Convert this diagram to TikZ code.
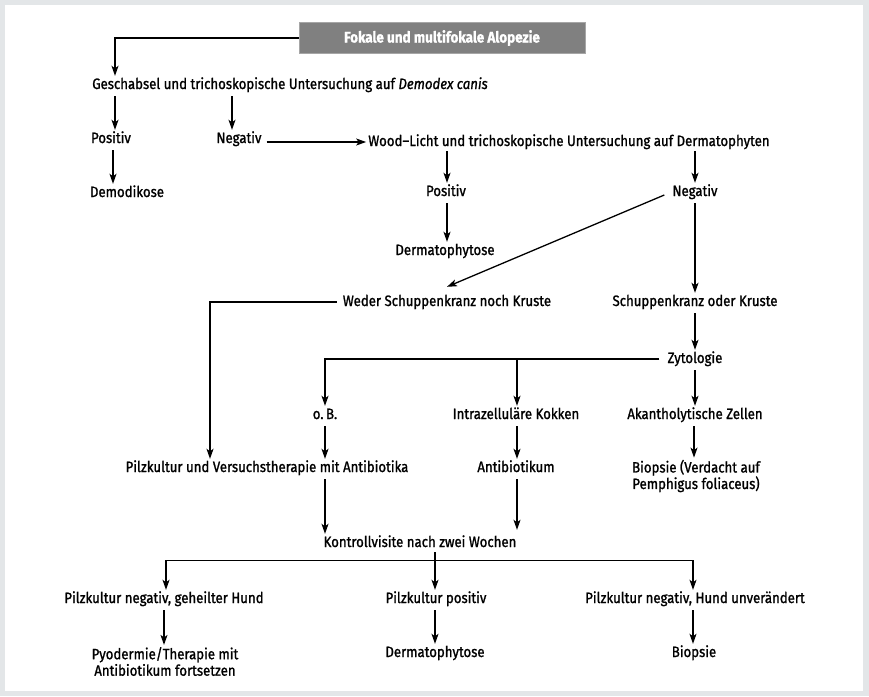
\documentclass[tikz,border=0pt]{standalone}
\usepackage{fontspec}
\setmainfont{Fira Sans}[FakeStretch=0.88, FakeBold=1.2]
\usetikzlibrary{arrows.meta,calc}
\definecolor{framegrey}{HTML}{E3E6E8}
\definecolor{titlegrey}{HTML}{808080}
\tikzset{
  lbl/.style={inner sep=2pt, font=\fontsize{15}{17}\selectfont, text height=11pt, text depth=3pt, align=center},
  lbltwo/.style={inner sep=2pt, font=\fontsize{15}{16.5}\selectfont, align=center},
  arr/.style={line width=1.3pt, -{Stealth[length=10pt,width=7pt,inset=2.5pt]}},
  ln/.style={line width=1.3pt},
}
\begin{document}
\begin{tikzpicture}[x=1pt,y=-1pt]
\useasboundingbox (0,0) rectangle (869,696);
\fill[framegrey] (0,0) rectangle (869,696);
\fill[white] (5,5) rectangle (863,691);
% column helpers
\foreach \n/\x in {a/115,b/232,c/113,d/447,e/695,f/210,g/325,h/517,i/694,j/435,k/166,l/693,m/164}{
  \coordinate (c\n) at (\x,0);
}
% title
\node[fill=titlegrey, draw=gray!70, line width=0.8pt, minimum width=286pt, minimum height=31pt, text=white, inner sep=0pt,
      font=\fontsize{15.3}{18}\selectfont\bfseries] (title) at (442,38) {Fokale und multifokale Alopezie};
% nodes
\node[lbl] (ges) at (290,85) {Geschabsel und trichoskopische Untersuchung auf \textit{Demodex canis}};
\node[lbl] (pos1) at (111,139) {Positiv};
\node[lbl] (neg1) at (239,139) {Negativ};
\node[lbl] (demo) at (127,193) {Demodikose};
\node[lbl] (wood) at (569,142) {Wood–Licht und trichoskopische Untersuchung auf Dermatophyten};
\node[lbl] (pos2) at (446,192) {Positiv};
\node[lbl] (neg2) at (695,192) {Negativ};
\node[lbl] (derm1) at (445,251) {Dermatophytose};
\node[lbl] (weder) at (447,302) {Weder Schuppenkranz noch Kruste};
\node[lbl] (schup) at (695,302) {Schuppenkranz oder Kruste};
\node[lbl] (zyt) at (695,359) {Zytologie};
\node[lbl] (ob) at (325,415) {o.\,B.};
\node[lbl] (intra) at (516,415) {Intrazelluläre Kokken};
\node[lbl] (akan) at (695,415) {Akantholytische Zellen};
\node[lbl] (pilz) at (267,468) {Pilzkultur und Versuchstherapie mit Antibiotika};
\node[lbl] (anti) at (516,468) {Antibiotikum};
\node[lbltwo] (bio1) at (696,476) {Biopsie (Verdacht auf\\Pemphigus foliaceus)};
\node[lbl] (kont) at (420,543) {Kontrollvisite nach zwei Wochen};
\node[lbl] (pkneg) at (164,599) {Pilzkultur negativ, geheilter Hund};
\node[lbl] (pkpos) at (436,599) {Pilzkultur positiv};
\node[lbl] (pknegu) at (695,599) {Pilzkultur negativ, Hund unverändert};
\node[lbltwo] (pyo) at (165,661.5) {Pyodermie/Therapie mit\\Antibiotikum fortsetzen};
\node[lbl] (derm2) at (435,653) {Dermatophytose};
\node[lbl] (bio2) at (694,653) {Biopsie};
% connectors
\draw[arr] (title.west) -| (ges.north -| ca);
\draw[arr] ($(ges.south -| ca)+(0,2)$) -- (pos1.north -| ca);
\draw[arr] ($(ges.south -| cb)+(0,2)$) -- (neg1.north -| cb);
\draw[arr] ($(pos1.south -| cc)+(0,2)$) -- (demo.north -| cc);
\draw[arr] ($(neg1.east |- wood.west)+(3,0)$) -- (wood.west);
\draw[arr] (wood.south -| cd) -- (pos2.north -| cd);
\draw[arr] (wood.south -| ce) -- (neg2.north -| ce);
\draw[arr] ($(pos2.south -| cd)+(0,2)$) -- (derm1.north -| cd);
\draw[arr] ($(neg2.west)+(-6,3)$) -- ($(weder.north)+(0,-6)$);
\draw[arr] ($(neg2.south -| ce)+(0,2)$) -- (schup.north -| ce);
\draw[arr] ($(weder.west)+(-4,0)$) -| (pilz.north -| cf);
\draw[arr] ($(schup.south -| ce)+(0,2)$) -- (zyt.north -| ce);
\draw[arr] ($(zyt.west)+(-6,0)$) -| (ob.north -| cg);
\draw[arr] (zyt.west -| ch) -- (intra.north -| ch);
\draw[arr] ($(zyt.south -| ce)+(0,2)$) -- (akan.north -| ce);
\draw[arr] ($(ob.south -| cg)+(0,2)$) -- (pilz.north -| cg);
\draw[arr] ($(intra.south -| ch)+(0,2)$) -- (anti.north -| ch);
\draw[arr] ($(akan.south -| ci)+(0,2)$) -- (bio1.north -| ci);
\draw[arr] ($(pilz.south -| cg)+(0,2)$) -- (kont.north -| cg);
\draw[arr] ($(anti.south -| ch)+(0,2)$) -- ($(kont.north -| ch)+(0,-4)$);
\coordinate (split) at ($(kont.south -| cj)+(0,8)$);
\draw[ln] (kont.south -| cj) -- (split);
\draw[arr] (split) -- (pkpos.north -| cj);
\draw[arr] (split) -| (pkneg.north -| ck);
\draw[arr] (split) -| (pknegu.north -| cl);
\draw[arr] ($(pkneg.south -| cm)+(0,2)$) -- (pyo.north -| cm);
\draw[arr] ($(pkpos.south -| cj)+(0,2)$) -- (derm2.north -| cj);
\draw[arr] ($(pknegu.south -| cl)+(0,2)$) -- (bio2.north -| cl);
\end{tikzpicture}
\end{document}
